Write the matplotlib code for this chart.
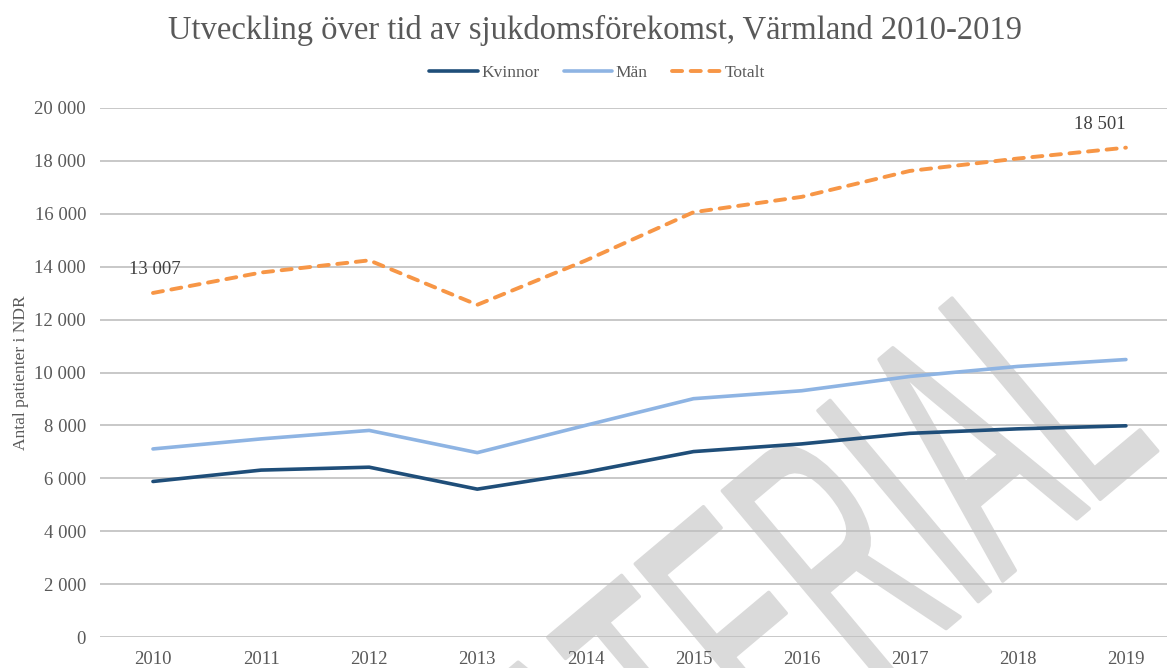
#!/usr/bin/env python3
import matplotlib
matplotlib.use('Agg')
import matplotlib.pyplot as plt
from matplotlib import patheffects
from matplotlib.ticker import FuncFormatter
from matplotlib.transforms import Affine2D

years = ['2010', '2011', '2012', '2013', '2014', '2015', '2016', '2017', '2018', '2019']
kvinnor = [5880, 6310, 6420, 5590, 6230, 7010, 7300, 7700, 7870, 7985]
man = [7110, 7490, 7810, 6970, 8000, 9010, 9310, 9850, 10230, 10490]
totalt = [13007, 13780, 14240, 12560, 14230, 16060, 16640, 17620, 18090, 18501]


class Squeeze(patheffects.AbstractPathEffect):
    # squeeze the glyphs along the baseline and round them off (watermark look)
    def __init__(self, sx, lw):
        super().__init__()
        self.sx = sx
        self.lw = lw

    def draw_path(self, renderer, gc, tpath, affine, rgbFace=None):
        gc0 = renderer.new_gc()
        gc0.copy_properties(gc)
        gc0.set_linewidth(self.lw)
        gc0.set_joinstyle('round')
        gc0.set_foreground(rgbFace)
        renderer.draw_path(gc0, tpath, Affine2D().scale(self.sx, 1) + affine, rgbFace)
        gc0.restore()


plt.rcParams['font.family'] = ['Liberation Serif', 'DejaVu Serif']
gray_txt = '#595959'

fig = plt.figure(figsize=(11.67, 6.68), dpi=100)
ax = fig.add_axes([100 / 1167, 1 - 637 / 668, 1 - 100 / 1167, (637 - 108) / 668])
ax.patch.set_alpha(0)

# watermark behind the axes
fig.text(519 / 1167, 1 - 987 / 668, 'MATERIAL', fontsize=261, rotation=40,
         family=['Liberation Sans', 'DejaVu Sans'],
         color='#dadada', ha='left', va='baseline', rotation_mode='anchor', zorder=-1,
         path_effects=[Squeeze(0.47, 2.5)])

x = list(range(len(years)))
ax.plot(x, kvinnor, color='#1f4e79', lw=2.6, solid_capstyle='round', label='Kvinnor')
ax.plot(x, man, color='#8eb4e3', lw=2.6, solid_capstyle='round', label='Män')
ax.plot(x, totalt, color='#f79646', lw=2.8, linestyle=(0, (2.6, 2.2)),
        dash_capstyle='round', label='Totalt')

ax.annotate('{:,}'.format(totalt[0]).replace(',', ' '), (x[0], totalt[0]),
            xytext=(1, 17), textcoords='offset points', ha='center', va='center',
            fontsize=13.5, color='#404040')
ax.annotate('{:,}'.format(totalt[-1]).replace(',', ' '), (x[-1], totalt[-1]),
            xytext=(-19, 17), textcoords='offset points', ha='center', va='center',
            fontsize=13.5, color='#404040')

ax.set_xlim(-0.49, 9.38)
ax.set_ylim(0, 20000)
ax.set_yticks(range(0, 20001, 2000))
ax.yaxis.set_major_formatter(FuncFormatter(lambda v, p: '{:,}'.format(int(v)).replace(',', ' ')))
ax.set_xticks(x)
ax.set_xticklabels(years)
ax.tick_params(length=0, labelsize=13.5, labelcolor=gray_txt)
ax.tick_params(axis='x', pad=10)
ax.tick_params(axis='y', pad=10)
ax.grid(axis='y', color='#bfbfbf', lw=1.2)
ax.set_axisbelow(True)
for s in ax.spines.values():
    s.set_visible(False)

ax.set_ylabel('Antal patienter i NDR', fontsize=12.5, color=gray_txt, labelpad=4)

fig.text(595 / 1167, 1 - 30 / 668, 'Utveckling över tid av sjukdomsförekomst, Värmland 2010-2019',
         fontsize=23.5, color=gray_txt, ha='center', va='center')
fig.legend(loc='center', bbox_to_anchor=(597 / 1167, 1 - 73 / 668), ncol=3, frameon=False,
           fontsize=12.5, handlelength=2.8, handletextpad=0.2, columnspacing=1.4,
           labelcolor=gray_txt)

fig.savefig('out.png', dpi=100)
